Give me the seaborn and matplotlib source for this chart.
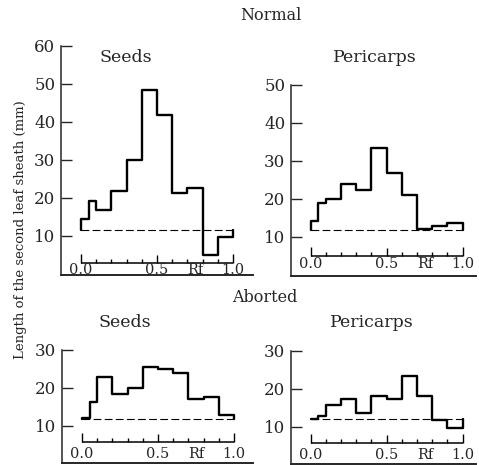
import numpy as np
import pandas as pd
import matplotlib
matplotlib.use("Agg")
import matplotlib.pyplot as plt
import seaborn as sns

# Rf bin edges (the first 0.1 interval is split into two halves)
rf_edges = [0.0, 0.05, 0.1, 0.2, 0.3, 0.4, 0.5, 0.6, 0.7, 0.8, 0.9, 1.0]

# Length of the second leaf sheath (mm) per Rf zone
normal_seeds = [14.5, 19.2, 16.9, 21.7, 30.0, 48.4, 41.9, 21.4, 22.6, 5.0, 9.8]
normal_pericarps = [14.2, 18.8, 20.0, 23.8, 22.3, 33.4, 26.8, 21.0, 12.0, 12.9, 13.7]
aborted_seeds = [12.2, 16.2, 22.8, 18.3, 20.1, 25.4, 24.9, 24.0, 17.0, 17.5, 13.0]
aborted_pericarps = [12.2, 12.9, 15.9, 17.3, 13.8, 18.1, 17.4, 23.5, 18.1, 11.9, 9.8]

# control level (dashed line)
control = [11.6, 11.8, 11.9, 12.0]

panel_titles = ["Seeds", "Pericarps", "Seeds", "Pericarps"]
panel_values = [normal_seeds, normal_pericarps, aborted_seeds, aborted_pericarps]
panel_yticks = [[10, 20, 30, 40, 50, 60], [10, 20, 30, 40, 50], [10, 20, 30], [10, 20, 30]]
rf_labels = ["0.0", "0.5", "Rf", "1.0"]
rf_label_pos = [0.0, 0.5, 0.755, 1.0]

W, H = 479, 465
PX_X = 152.0   # pixels per Rf unit
PX_Y = 3.8     # pixels per mm

# pixel layout: left, right, bottom px, ymin, ymax, Rf scale line y, Rf label y, title x, title y
layout = [
    dict(L=61, R=253, B=275, ymin=-0.3, ymax=60, rf_y=2.9, lab_y=1.1, tx=126, ty=57),
    dict(L=291, R=476, B=276, ymin=-0.3, ymax=50, rf_y=5.0, lab_y=2.9, tx=375, ty=57),
    dict(L=62, R=253, B=463, ymin=0.25, ymax=30, rf_y=5.8, lab_y=2.7, tx=125, ty=322),
    dict(L=291, R=476, B=464, ymin=0.25, ymax=30, rf_y=5.8, lab_y=2.6, tx=372, ty=322),
]

sns.set_style("ticks")
plt.rcParams["font.family"] = ["DejaVu Serif"]

fig = plt.figure(figsize=(W / 100, H / 100), dpi=100)

rf_ticks = np.round(np.arange(0, 11) / 10, 1)
tick_len = np.where((rf_ticks == 0) | (rf_ticks == 1), 9, np.where(rf_ticks == 0.5, 8, 4)) / PX_Y

for i, spec in enumerate(layout):
    top_px = spec["B"] - (spec["ymax"] - spec["ymin"]) * PX_Y
    ax = fig.add_axes([spec["L"] / W, 1 - spec["B"] / H,
                       (spec["R"] - spec["L"]) / W, (spec["B"] - top_px) / H])
    x0 = -(20 if i in (0, 2) else 19.5) / PX_X
    ax.set_xlim(x0, x0 + (spec["R"] - spec["L"]) / PX_X)
    ax.set_ylim(spec["ymin"], spec["ymax"])

    vals = panel_values[i]
    ctrl = control[i]
    step = pd.DataFrame({
        "rf": [rf_edges[0]] + rf_edges[:-1] + [rf_edges[-1], rf_edges[-1]],
        "length": [ctrl] + vals + [vals[-1], ctrl],
    })
    sns.lineplot(data=step, x="rf", y="length", ax=ax, sort=False, estimator=None,
                 drawstyle="steps-post", color="black", linewidth=1.7)
    ctrl_df = pd.DataFrame({"rf": [rf_edges[0], rf_edges[-1]], "length": [ctrl, ctrl]})
    sns.lineplot(data=ctrl_df, x="rf", y="length", ax=ax, sort=False, estimator=None,
                 color="black", linewidth=0.8, dashes=False, linestyle=(0, (7, 3)))

    # Rf scale drawn inside the panel
    ax.hlines(spec["rf_y"], 0, 1, color="black", lw=1.1)
    ax.vlines(rf_ticks, spec["rf_y"], spec["rf_y"] + tick_len, color="black", lw=1.0)
    for lab, pos in zip(rf_labels, rf_label_pos):
        ax.text(pos, spec["lab_y"], lab, ha="center", va="center", fontsize=10.5)

    ax.set_yticks(panel_yticks[i])
    ax.set_xticks([])
    ax.tick_params(axis="y", direction="in", length=8, width=1.0, labelsize=12, pad=4)
    ax.set_xlabel("")
    ax.set_ylabel("")
    for s in ("top", "right"):
        ax.spines[s].set_visible(False)
    ax.spines["left"].set_linewidth(1.1)
    ax.spines["bottom"].set_linewidth(1.4)

    fig.text(spec["tx"] / W, 1 - spec["ty"] / H, panel_titles[i],
             ha="center", va="center", fontsize=12.5)

fig.text(271 / W, 1 - 15 / H, "Normal", ha="center", va="center", fontsize=11.5)
fig.text(265 / W, 1 - 297 / H, "Aborted", ha="center", va="center", fontsize=11.5)
fig.text(21 / W, 1 - 230 / H, "Length of the second leaf sheath (mm)",
         rotation=90, ha="center", va="center", fontsize=9.5)

fig.savefig("out.png", dpi=100)
